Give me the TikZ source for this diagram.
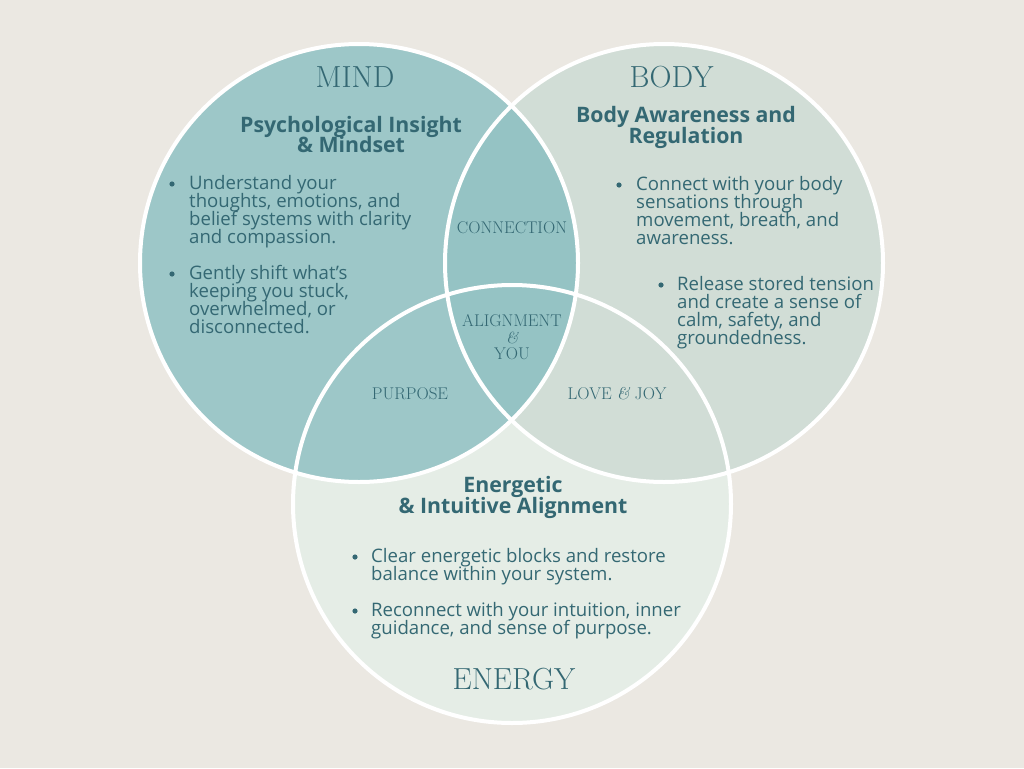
\documentclass[tikz,border=0pt]{standalone}
\usepackage{fontspec}
\newfontfamily\osans{Open Sans}
\usetikzlibrary{calc}
\lineskiplimit=-20pt

\definecolor{bgcol}{HTML}{EBE8E2}
\definecolor{mindcol}{HTML}{9DC7C8}
\definecolor{bodycol}{HTML}{D1DDD6}
\definecolor{energycol}{HTML}{E5EDE6}
\definecolor{lenscol}{HTML}{95C3C4}
\definecolor{inkcol}{HTML}{346873}

\begin{document}
\begin{tikzpicture}[x=1pt,y=-1pt,
  ring/.style={draw=white, line width=4pt},
  title/.style={text=inkcol, inner sep=0, font=\fontsize{30.5}{31}\selectfont},
  zone/.style={text=inkcol, inner sep=0, align=center, font=\fontsize{17}{16.5}\selectfont\addfontfeatures{LetterSpace=3}},
  head/.style={text=inkcol, inner sep=0, align=center, font=\osans\bfseries\fontsize{21.3}{20.8}\selectfont},
  para/.style={text=inkcol, inner sep=0, align=left, anchor=north west, font=\osans\fontsize{18.6}{18}\selectfont},
  dot/.style={fill=inkcol}
]
\useasboundingbox[fill=bgcol] (0,0) rectangle (1024,768);

% the three circles
\coordinate (mindc) at (359,263);
\coordinate (bodyc) at (664,263);
\coordinate (energyc) at (512,504);

\fill[energycol] (energyc) circle (219pt);
\fill[bodycol] (bodyc) circle (219pt);
\fill[mindcol] (mindc) circle (219pt);
\begin{scope}
  \clip (mindc) circle (219pt);
  \fill[lenscol] (bodyc) circle (219pt);
\end{scope}
\foreach \c in {mindc, bodyc, energyc}
  \draw[ring] (\c) circle (219pt);

% titles
\node[title] (mind) at (355,77) {MIND};
\node[title] (body) at (671.5,77) {BODY};
\node[title] (energy) at (514,679.5) {ENERGY};

% overlaps
\node[zone] (connection) at (512,228) {CONNECTION};
\node[zone] (alignment) at (512,337.5) {ALIGNMENT\\{\fontsize{16}{16.5}\selectfont\itshape\&}\\YOU};
\node[zone] (purpose) at (410,394) {PURPOSE};
\node[zone] (lovejoy) at (617,394) {LOVE {\itshape\&} JOY};

% headings
\node[head] (mindhead) at (351,134.5) {Psychological Insight\\\& Mindset};
\node[head] (bodyhead) at (686,127.5) {Body Awareness and\\Regulation};
\node[head] (energyhead) at (513,497.5) {Energetic\\\& Intuitive Alignment};

% bullets
\node[para] (mind1) at (189,175) {Understand your\\thoughts, emotions, and\\belief systems with clarity\\and compassion.};
\node[para] (mind2) at (189,265) {Gently shift what’s\\keeping you stuck,\\overwhelmed, or\\disconnected.};
\node[para] (body1) at (636,176) {Connect with your body\\sensations through\\movement, breath, and\\awareness.};
\node[para] (body2) at (677,276) {Release stored tension\\and create a sense of\\calm, safety, and\\groundedness.};
\node[para] (energy1) at (371,548) {Clear energetic blocks and restore\\balance within your system.};
\node[para] (energy2) at (371,602) {Reconnect with your intuition, inner\\guidance, and sense of purpose.};

\foreach \p in {(172,184),(172,274),(619,185),(661,285),(355,557),(355,611)}
  \fill[dot] \p circle (2.6pt);

\end{tikzpicture}
\end{document}
